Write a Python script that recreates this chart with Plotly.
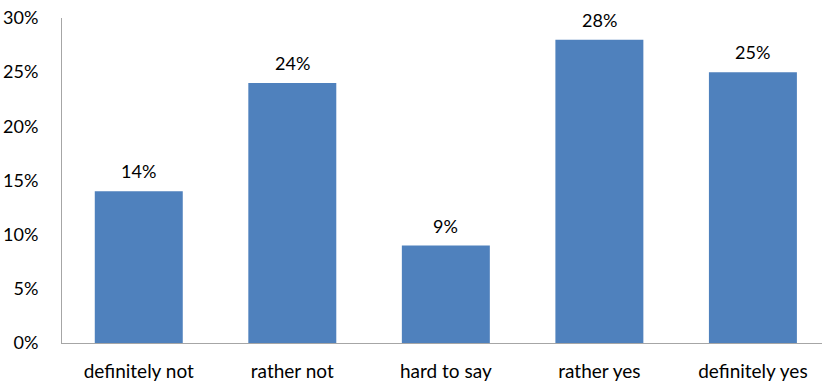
import plotly.graph_objects as go

categories = ["definitely not", "rather not", "hard to say", "rather yes", "definitely yes"]
values = [14, 24, 9, 28, 25]
y_ticks = [0, 5, 10, 15, 20, 25, 30]
y_tick_labels = [f"{v}%" for v in y_ticks]
bar_labels = [f"{v}%" for v in values]

FONT = "Lato"
fig = go.Figure()
fig.add_trace(go.Bar(
    x=list(range(len(categories))), y=values,
    marker=dict(color="#4F81BD", line=dict(width=0)),
    width=0.573,
    hoverinfo="skip",
))
for i, (v, lab) in enumerate(zip(values, bar_labels)):
    fig.add_annotation(x=i, y=v, text=lab, showarrow=False, yshift=20,
                       font=dict(family=FONT, size=18, color="#000000"))

fig.update_layout(
    width=822, height=382,
    margin=dict(l=62, r=0, t=18, b=39),
    paper_bgcolor="white", plot_bgcolor="white",
    showlegend=False,
    font=dict(family=FONT, size=18, color="#000000"),
    xaxis=dict(
        range=[-0.5, 4.45],
        tickmode="array", tickvals=list(range(len(categories))), ticktext=categories,
        tickfont=dict(family=FONT, size=19, color="#000000"),
        showline=True, linecolor="#A6A6A6", linewidth=1,
        showgrid=False, zeroline=False, ticks="",
        ticklabelstandoff=11,
    ),
    yaxis=dict(
        range=[0, 30],
        tickmode="array", tickvals=y_ticks, ticktext=y_tick_labels,
        tickfont=dict(family=FONT, size=18, color="#000000"),
        showline=True, linecolor="#A6A6A6", linewidth=1,
        showgrid=False, zeroline=False, ticks="",
        ticklabelstandoff=19,
    ),
)
fig.write_html("out.html")
